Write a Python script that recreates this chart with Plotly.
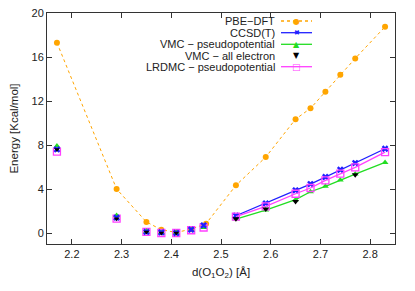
import plotly.graph_objects as go

# ---- data ----
x_dft = [2.17, 2.29, 2.35, 2.38, 2.41, 2.44, 2.47, 2.53, 2.59, 2.65, 2.68, 2.71, 2.74, 2.77, 2.83]
e_dft = [17.3, 4.0, 1.0, 0.3, 0.05, 0.35, 0.85, 4.33, 6.9, 10.35, 11.33, 12.85, 14.38, 15.87, 18.75]

x_short = [2.17, 2.29, 2.35, 2.38, 2.41, 2.44, 2.465]
ccsd_short = [7.6, 1.4, 0.1, 0.05, 0.0, 0.3, 0.7]
vmcpp_short = [7.9, 1.6, 0.15, 0.05, 0.05, 0.3, 0.5]
vmcae_short = [7.6, 1.3, 0.1, 0.0, 0.0, None, None]
lrdmc_short = [7.4, 1.3, 0.1, 0.0, 0.0, 0.25, 0.5]

x_long = [2.53, 2.59, 2.65, 2.68, 2.71, 2.74, 2.77, 2.83]
ccsd_long = [1.57, 2.69, 3.88, 4.45, 5.09, 5.75, 6.36, 7.66]
vmcpp_long = [1.27, 2.09, 3.03, 3.75, 4.24, 4.82, 5.36, 6.42]
lrdmc_long = [1.48, 2.42, 3.57, 4.09, 4.78, 5.39, 5.97, 7.35]
x_vmcae_long = [2.53, 2.59, 2.65, 2.77]
vmcae_long = [1.3, 2.18, 2.87, 5.3]

names = ["PBE\u2212DFT", "CCSD(T)", "VMC \u2212 pseudopotential", "VMC \u2212 all electron", "LRDMC \u2212 pseudopotential"]
x_ticks = [2.2, 2.3, 2.4, 2.5, 2.6, 2.7, 2.8]
y_ticks = [0, 4, 8, 12, 16, 20]

ORANGE = "#ffa500"
BLUE = "#2020ff"
GREEN = "#22dd22"
MAGENTA = "#ff40ff"
BLACK = "#000000"

fig = go.Figure()

# DFT
fig.add_trace(go.Scatter(x=x_dft, y=e_dft, mode="lines+markers",
                         line=dict(color=ORANGE, width=1, dash="dot"),
                         marker=dict(symbol="circle", size=6, color=ORANGE), showlegend=False))

# long-distance lines
fig.add_trace(go.Scatter(x=x_long, y=vmcpp_long, mode="lines+markers",
                         line=dict(color=GREEN, width=1.3),
                         marker=dict(symbol="triangle-up", size=6, color=GREEN), showlegend=False))
fig.add_trace(go.Scatter(x=x_long, y=ccsd_long, mode="lines+markers",
                         line=dict(color=BLUE, width=1.3),
                         marker=dict(symbol="x", size=6, color=BLUE), showlegend=False))
fig.add_trace(go.Scatter(x=x_long, y=lrdmc_long, mode="lines+markers",
                         line=dict(color=MAGENTA, width=1.3),
                         marker=dict(symbol="square-open", size=7, color=MAGENTA, line=dict(width=1.3)), showlegend=False))
fig.add_trace(go.Scatter(x=x_vmcae_long, y=vmcae_long, mode="markers",
                         marker=dict(symbol="triangle-down", size=6, color=BLACK), showlegend=False))

# short-distance points (no lines)
fig.add_trace(go.Scatter(x=x_short, y=lrdmc_short, mode="markers",
                         marker=dict(symbol="square-open", size=7, color=MAGENTA, line=dict(width=1.3)), showlegend=False))
fig.add_trace(go.Scatter(x=x_short, y=vmcpp_short, mode="markers",
                         marker=dict(symbol="triangle-up", size=6, color=GREEN), showlegend=False))
fig.add_trace(go.Scatter(x=x_short, y=ccsd_short, mode="markers",
                         marker=dict(symbol="x", size=6, color=BLUE), showlegend=False))
fig.add_trace(go.Scatter(x=x_short, y=vmcae_short, mode="markers",
                         marker=dict(symbol="triangle-down", size=5, color=BLACK), showlegend=False))

# ---- manual legend (gnuplot style: text right, sample left) ----
OFF = 8  # page body margin
FW, FH = 415 - OFF, 291 - OFF
L, R, T, B = 47 - OFF, 395 - OFF, 13 - OFF, 244 - OFF
W, H = R - L, B - T
def px(x):
    return (x - OFF - L) / W
def py(y):
    return (B - (y - OFF)) / H

rows = [21, 32.7, 44.3, 55.7, 66.7]
colors = [ORANGE, BLUE, GREEN, BLACK, MAGENTA]
dashes = ["dot", "solid", "solid", None, "solid"]
glyphs = ["\u25cf", "\u2716", "\u25b2", "\u25bc", "\u25a1"]
gsize = [8, 7, 8, 8, 9]
annotations = []
shapes = []
for i in range(5):
    annotations.append(dict(x=px(275.7), y=py(rows[i]), xref="paper", yref="paper",
                            text=names[i], showarrow=False, xanchor="right", yanchor="middle",
                            borderpad=0, font=dict(size=11, color="#222222")))
    if dashes[i]:
        shapes.append(dict(type="line", xref="paper", yref="paper",
                           x0=px(281), x1=px(312), y0=py(rows[i]), y1=py(rows[i]),
                           line=dict(color=colors[i], width=1.3, dash=dashes[i])))
    annotations.append(dict(x=px(296.5), y=py(rows[i]), xref="paper", yref="paper",
                            text=glyphs[i], showarrow=False, xanchor="center", yanchor="middle",
                            font=dict(size=gsize[i], color=colors[i], family="DejaVu Sans")))

fig.update_layout(
    width=FW, height=FH,
    margin=dict(l=L, r=FW - R, t=T, b=FH - B, autoexpand=False),
    plot_bgcolor="white", paper_bgcolor="white",
    font=dict(family="Liberation Sans, Arial, sans-serif", size=11, color="#222222"),
    annotations=annotations, shapes=shapes,
)
fig.update_xaxes(range=[2.15, 2.85], tickvals=x_ticks, ticktext=[f"{t:.1f}" for t in x_ticks],
                 ticks="inside", ticklen=5, tickcolor="#333333", mirror="allticks", automargin=False,
                 ticklabeloverflow="allow",
                 showline=True, linecolor="#333333", linewidth=1, showgrid=False, zeroline=False,
                 title=dict(text="d(O<sub>1</sub>O<sub>2</sub>) [\u00c5]", standoff=8, font=dict(size=11.5)))
fig.update_yaxes(range=[-1, 20], tickvals=y_ticks, automargin=False, ticklabeloverflow="allow",
                 ticks="inside", ticklen=5, tickcolor="#333333", mirror="allticks",
                 showline=True, linecolor="#333333", linewidth=1, showgrid=False, zeroline=False,
                 title=dict(text="Energy [Kcal/mol]", standoff=18, font=dict(size=11.5)))

fig.write_html("out.html")
